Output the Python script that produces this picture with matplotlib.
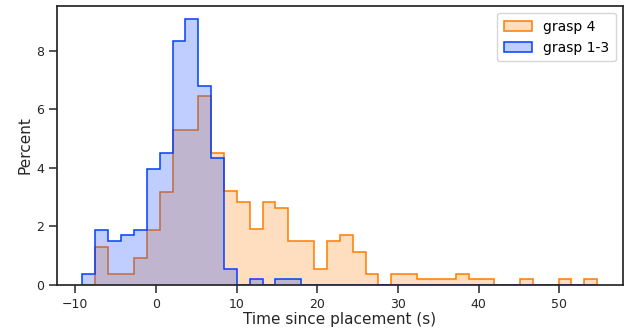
import numpy as np
import matplotlib
matplotlib.use("Agg")
import matplotlib.pyplot as plt
from matplotlib.patches import Patch

# Bin edges (seconds) shared by both groups
bin_start = -9.1
bin_end = 54.7
n_bins = 40
edges = np.linspace(bin_start, bin_end, n_bins + 1)

labels = ["grasp 4", "grasp 1-3"]

# Percent per bin (common normalisation)
grasp4 = [0.00, 1.30, 0.37, 0.37, 0.92, 1.88, 3.19, 5.29, 5.29, 6.45,
          4.51, 3.20, 2.83, 1.90, 2.83, 2.62, 1.50, 1.50, 0.55, 1.50,
          1.70, 1.12, 0.38, 0.00, 0.38, 0.38, 0.19, 0.19, 0.19, 0.38,
          0.19, 0.19, 0.00, 0.00, 0.19, 0.00, 0.00, 0.19, 0.00, 0.19]
grasp13 = [0.37, 1.88, 1.51, 1.70, 1.88, 3.96, 4.50, 8.33, 9.08, 6.80,
           4.35, 0.56, 0.00, 0.19, 0.00, 0.19, 0.19, 0.00, 0.00, 0.00,
           0.00, 0.00, 0.00, 0.00, 0.00, 0.00, 0.00, 0.00, 0.00, 0.00,
           0.00, 0.00, 0.00, 0.00, 0.00, 0.00, 0.00, 0.00, 0.00, 0.00]

colors = ["#ff7c00", "#023eff"]
dark = "#262626"

plt.rcParams["font.family"] = ["DejaVu Sans"]
fig = plt.figure(figsize=(6.28, 3.34), dpi=100)
ax = fig.add_axes([0.0903, 0.1467, 0.992 - 0.0903, 0.983 - 0.1467])

for vals, c in zip([grasp4, grasp13], colors):
    ax.stairs(vals, edges, baseline=0, fill=True, facecolor=c, alpha=0.25,
              edgecolor="none", linewidth=0)
    ax.stairs(vals, edges, baseline=0, fill=False, color=c, linewidth=1.1)

ymax = max(max(grasp4), max(grasp13))
ax.set_ylim(0, ymax * 1.05)
span = bin_end - bin_start
ax.set_xlim(bin_start - 0.05 * span, bin_end + 0.05 * span)

ax.set_xticks([-10, 0, 10, 20, 30, 40, 50])
ax.set_yticks([0, 2, 4, 6, 8])
ax.tick_params(axis="both", labelsize=9, length=5.5, width=1.1, color=dark,
               labelcolor=dark, direction="out")
for s in ax.spines.values():
    s.set_color(dark)
    s.set_linewidth(1.25)

ax.set_xlabel("Time since placement (s)", fontsize=11, color=dark, labelpad=1)
ax.set_ylabel("Percent", fontsize=11, color=dark, labelpad=3)

handles = [Patch(facecolor=matplotlib.colors.to_rgba(c, 0.25), edgecolor=c, linewidth=1.1)
           for c in colors]
ax.legend(handles, labels, loc="upper right", fontsize=10, frameon=True,
          borderpad=0.5, handlelength=2.0, labelspacing=0.5)

fig.savefig("out.png", dpi=100)
